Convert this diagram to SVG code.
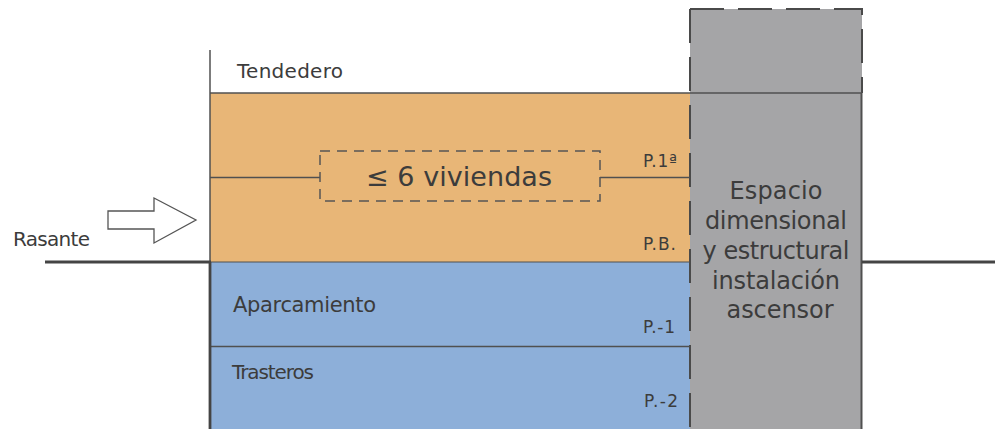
<svg xmlns="http://www.w3.org/2000/svg" width="995" height="429" viewBox="0 0 995 429">
<style>
.t{font-family:"DejaVu Sans","Liberation Sans",sans-serif;fill:#3c3c3c}
.ln{stroke:#505050;stroke-width:1.5;fill:none}
.thick{stroke:#444;stroke-width:2.8;fill:none}
.dash{stroke:#555;stroke-width:1.5;fill:none;stroke-dasharray:10 7}
.gdash{stroke:#4a4a4a;stroke-width:2;fill:none;stroke-dasharray:34 14}
</style>
<rect width="995" height="429" fill="#ffffff"/>
<g id="viviendas-zone">
<rect x="210" y="93" width="480" height="169" fill="#E8B677"/>
</g>
<g id="sotano-zone">
<rect x="210" y="262" width="480" height="167" fill="#8DAFD9"/>
</g>
<g id="ascensor">
<rect x="690" y="9" width="172" height="420" fill="#A5A5A7"/>
<path class="gdash" d="M690,9 H862 V93"/>
<path class="gdash" d="M690,9 V429"/>
<path class="ln" d="M861.5,93 V429" style="stroke-width:2"/>
<text class="t" font-size="24" text-anchor="middle" x="776" y="199" textLength="93">Espacio</text>
<text class="t" font-size="24" text-anchor="middle" x="776" y="229" textLength="142">dimensional</text>
<text class="t" font-size="24" text-anchor="middle" x="776" y="259" textLength="147">y estructural</text>
<text class="t" font-size="24" text-anchor="middle" x="776" y="289" textLength="128">instalación</text>
<text class="t" font-size="24" text-anchor="middle" x="780" y="318" textLength="107">ascensor</text>
</g>
<g id="connectors">
<path class="ln" d="M210,93 H862"/>
<path class="ln" d="M210,262 H690" style="stroke-width:1.2"/>
<path class="ln" d="M210,346.5 H690"/>
<path class="ln" d="M210,50 V262"/>
<path class="thick" d="M210,262 V429"/>
<path class="thick" d="M45,262 H211"/>
<path class="thick" d="M862,262 H995"/>
<path class="ln" d="M210,177.5 H320"/>
<path class="ln" d="M600,177.5 H690"/>
</g>
<g id="viviendas-box">
<rect class="dash" x="320" y="151" width="280" height="50"/>
<text class="t" font-size="27" x="366" y="186" textLength="186">≤ 6 viviendas</text>
</g>
<g id="rasante-arrow">
<polygon points="108,211 154,211 154,198 196,220 154,243 154,229 108,229" fill="#fff" stroke="#555" stroke-width="1.3"/>
<text class="t" font-size="20" x="13" y="246" textLength="77">Rasante</text>
</g>
<g id="labels">
<text class="t" font-size="20" x="237" y="78" textLength="106">Tendedero</text>
<text class="t" font-size="17" x="643" y="167" textLength="34">P.1ª</text>
<text class="t" font-size="17" x="643" y="250" textLength="33">P.B.</text>
<text class="t" font-size="21" x="233" y="312" textLength="143">Aparcamiento</text>
<text class="t" font-size="20" x="232" y="379" textLength="82">Trasteros</text>
<text class="t" font-size="17" x="643" y="333" textLength="32">P.-1</text>
<text class="t" font-size="17" x="644" y="407" textLength="34">P.-2</text>
</g>
</svg>
